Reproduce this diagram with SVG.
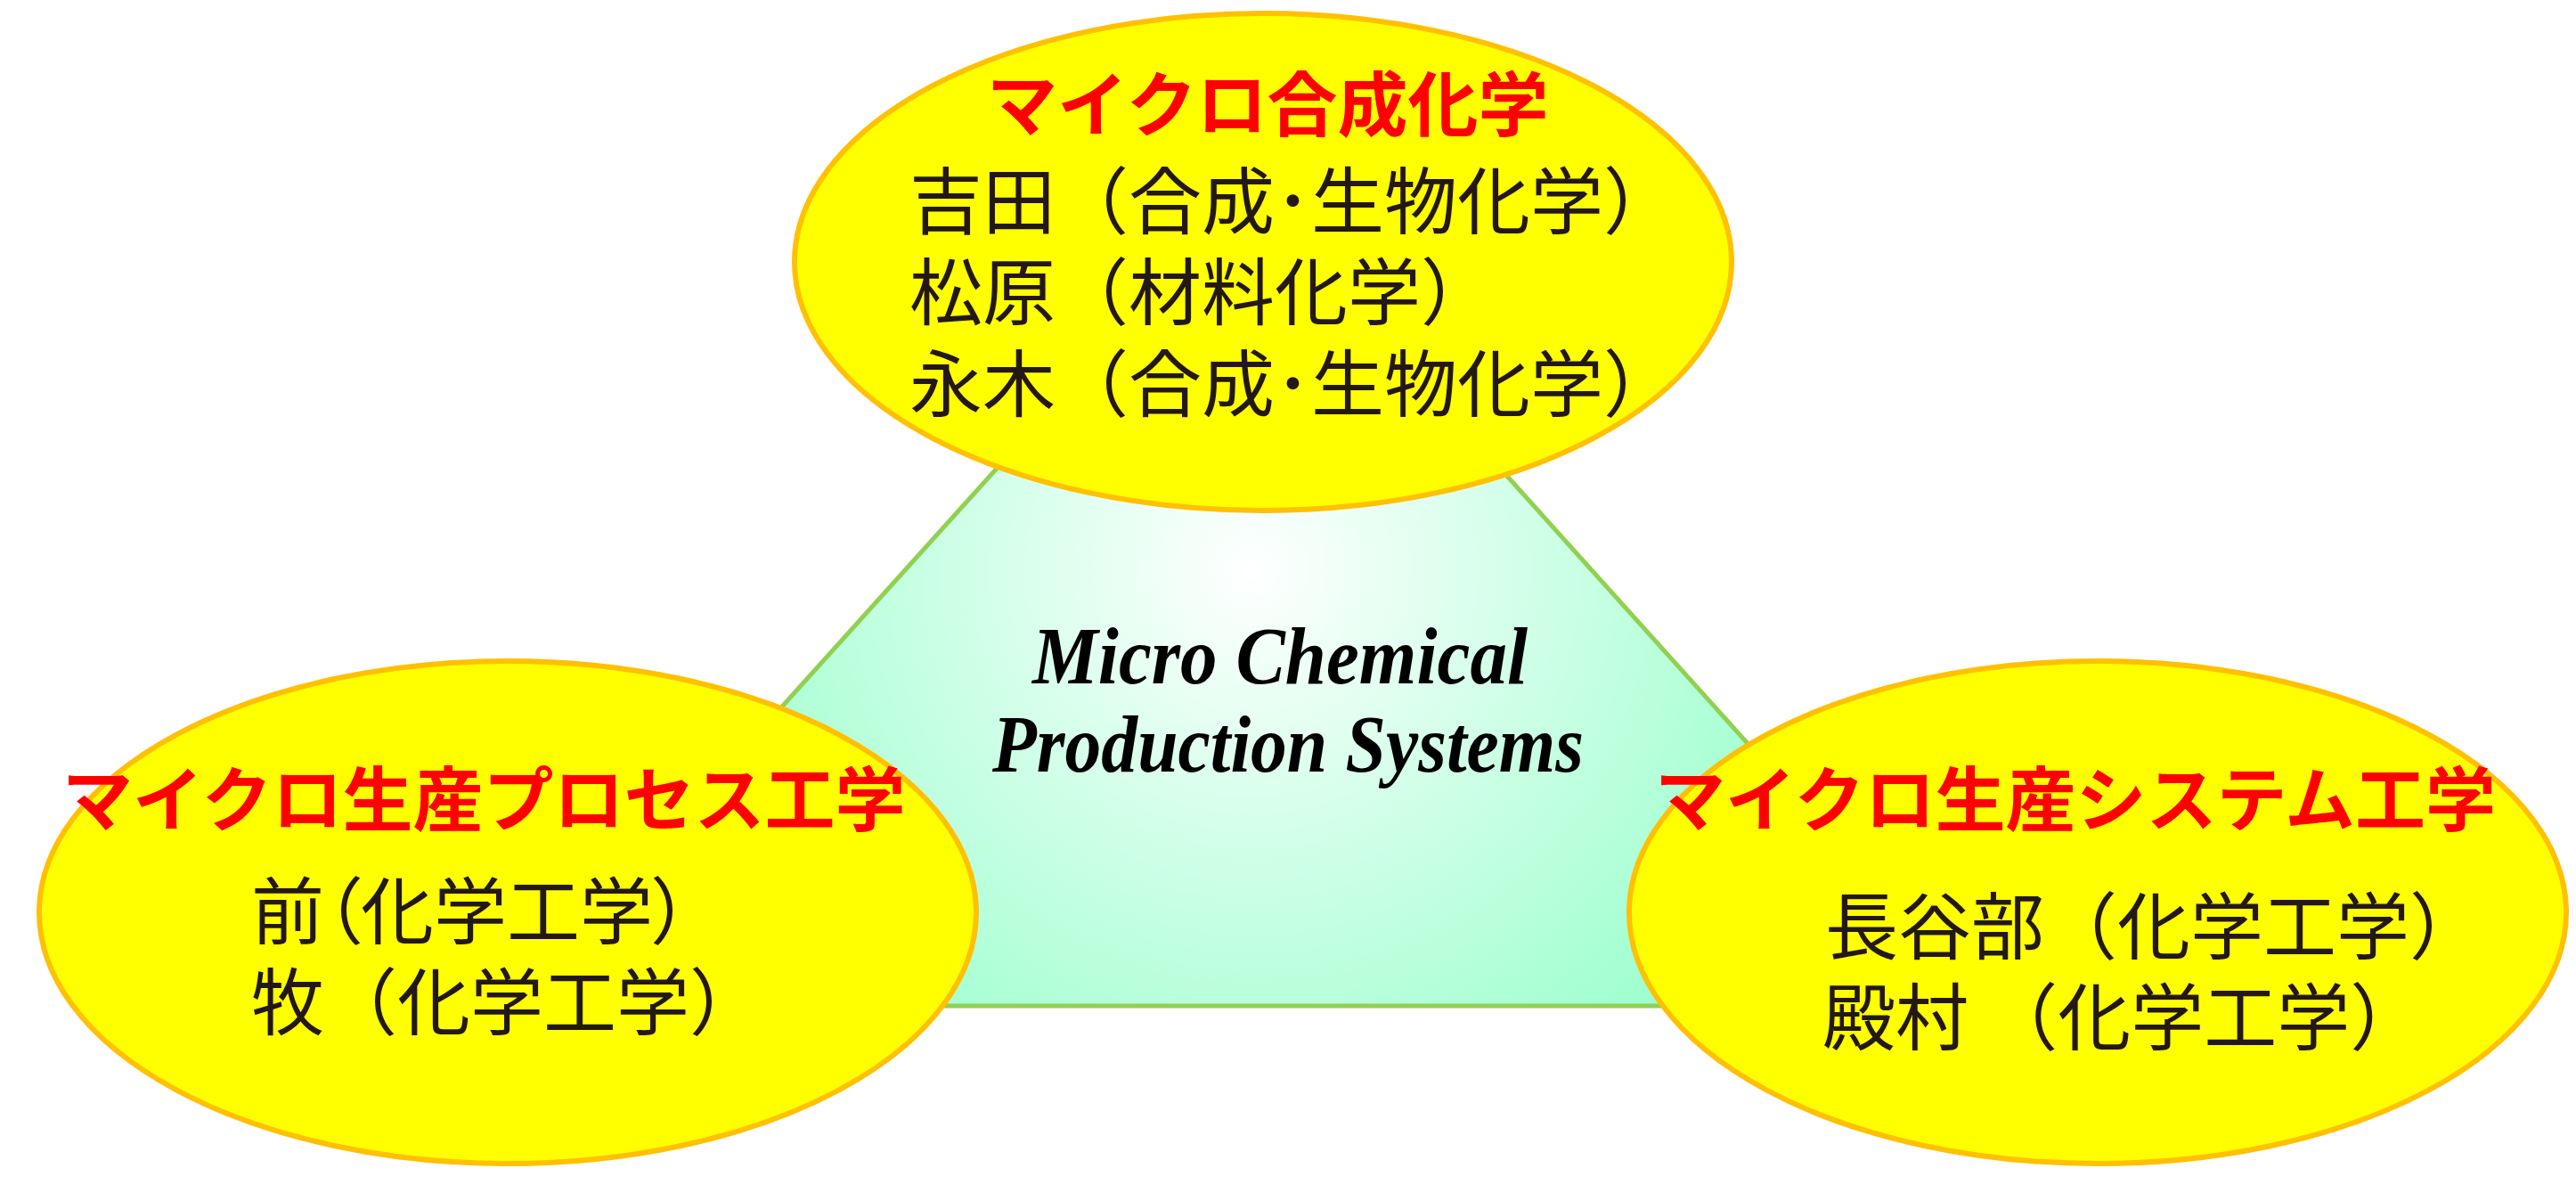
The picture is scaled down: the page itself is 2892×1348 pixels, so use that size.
<svg xmlns="http://www.w3.org/2000/svg" width="2892" height="1348" viewBox="0 0 2892 1348">
<defs>
<radialGradient id="g" gradientUnits="userSpaceOnUse" cx="1405" cy="640" r="690">
<stop offset="0" stop-color="#FFFFFF"/>
<stop offset="1" stop-color="#99FFCC"/>
</radialGradient>
<style>
.ell{fill:#FFFF00;stroke:#FFC000;stroke-width:6}
.ttl{font-family:"Noto Sans CJK JP","Noto Sans CJK SC",sans-serif;font-weight:bold;font-size:79px;fill:#FF0000}
.mem{font-family:"Noto Sans CJK JP","Noto Sans CJK SC",sans-serif;font-size:82px;fill:#231815}
.scr{font-family:"Liberation Serif",serif;font-style:italic;font-weight:bold;font-size:92px;fill:#000000}
</style>
</defs>
<g id="triangle">
<polygon points="1402,212 575,1129 2227,1129" fill="url(#g)" stroke="#92D050" stroke-width="5" stroke-linejoin="miter"/>
<text class="scr" x="1437" y="767" text-anchor="middle" textLength="556" lengthAdjust="spacingAndGlyphs">Micro Chemical</text>
<text class="scr" x="1446" y="866" text-anchor="middle" textLength="664" lengthAdjust="spacingAndGlyphs">Production Systems</text>
</g>
<g id="connectors"></g>
<g id="node-top">
<ellipse class="ell" cx="1418" cy="294" rx="526" ry="279"/>
<text class="ttl" x="1108" y="147">マイクロ合成化学</text>
<text class="mem" x="1021" y="256">吉田（合成･生物化学）</text>
<text class="mem" x="1021" y="358">松原（材料化学）</text>
<text class="mem" x="1021" y="461">永木（合成･生物化学）</text>
</g>
<g id="node-left">
<ellipse class="ell" cx="570" cy="1024" rx="526" ry="282"/>
<text class="ttl" x="70" y="927">マイクロ生産プロセス工学</text>
<text class="mem" x="282" y="1053" style="font-feature-settings:'palt'">前（化学工学）</text>
<text class="mem" x="282" y="1155">牧（化学工学）</text>
</g>
<g id="node-right">
<ellipse class="ell" cx="2355" cy="1024" rx="526" ry="282"/>
<text class="ttl" x="1858" y="927">マイクロ生産システム工学</text>
<text class="mem" x="2049" y="1070">長谷部（化学工学）</text>
<text class="mem" x="2046" y="1172">殿村 （化学工学）</text>
</g>
</svg>
